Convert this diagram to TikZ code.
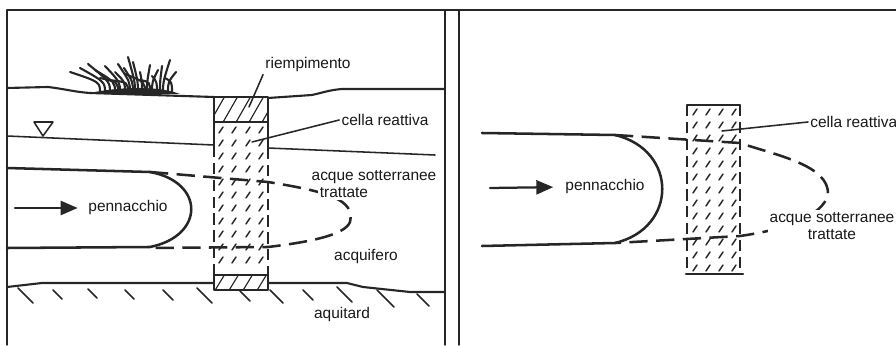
\documentclass[tikz,border=0pt]{standalone}
\usepackage{fontspec}
\setmainfont{Liberation Sans}
\usetikzlibrary{arrows.meta}

\begin{document}
\begin{tikzpicture}[
      x=0.025cm, y=-0.025cm,
      ink/.style={draw=black!85, line cap=round, line join=round},
      frame/.style={ink, line width=1pt},
      ground/.style={ink, line width=1.5pt},
      plume/.style={ink, line width=1.8pt},
      treated/.style={ink, line width=1.8pt, line cap=butt,
      dash pattern=on 13pt off 6pt},
      cellside/.style={ink, line width=1.6pt, line cap=butt,
      dash pattern=on 8pt off 4pt},
      hatch/.style={ink, line width=0.8pt},
      slash/.style={ink, line width=1pt},
      leader/.style={ink, line width=1.1pt},
      flow/.style={ink, line width=1.6pt, -{Triangle[length=12pt,width=10pt]}},
      lbl/.style={text=black!90, font=\fontsize{11}{12}\selectfont, inner sep=1.5pt},
      cover/.style={lbl, fill=white}
    ]
    \useasboundingbox (0,0) rectangle (896,347);

    % Frames
    \draw[frame] (7,345) -- (7,10) -- (896,10);
    \draw[frame] (445,10) -- (445,345);
    \draw[frame] (459,10) -- (459,345);

    % Section: ground surface and grass
    \draw[ground] (7,88) -- (48,87) .. controls (65,89) and (75,92) .. (90,93) -- (214,97);
    \draw[ground] (268,98) -- (312,95) .. controls (325,92) and (330,90) .. (342,89) -- (445,89);
    \fill[black!85] (85,94) .. controls (120,86) and (160,86) .. (180,94) -- cycle;
    \foreach \bx/\tx/\ty in {100/70/72, 105/80/68, 110/88/64, 115/95/70, 120/105/66,
      125/115/72, 130/118/64, 135/128/57, 138/133/62, 142/140/72, 147/150/65,
      152/158/70, 157/152/76, 163/170/60, 168/176/72, 172/165/78, 145/125/74,
      118/100/78, 128/108/80, 150/140/80, 160/162/66, 133/124/68}
      \draw[ink, line width=1.5pt] (\bx,93) .. controls (\bx,82) .. (\tx,\ty);

    % Water table
    \draw[ink, line width=1.1pt] (7,136) -- (214,145);
    \draw[ink, line width=1.1pt] (268,148) -- (435,155);
    \draw[ink, line width=1.1pt] (34,122) -- (53,122) -- (43,136) -- cycle;

    % Aquitard
    \draw[ground] (7,287) -- (42,283) -- (214,283);
    \draw[ground] (268,283) -- (347,283) -- (363,287) -- (410,292) -- (445,292);
    \foreach \hx/\hy/\hl in {18/288/15, 53/290/9, 88/289/9, 125/290/9, 163/290/10,
      197/288/15, 240/291/10, 270/290/13, 303/290/10, 337/287/15, 377/290/17, 417/294/12}
      \draw[ink, line width=1.2pt] (\hx,\hy) -- ++(\hl,\hl);

    % Plume (left)
    \draw[plume] (7,168) -- (150,172) .. controls (205,182) and (205,236) .. (150,247) -- (7,248);

    % Reactive cell (left)
    \foreach \sx in {221,234,248,261}
      \foreach \sy in {130,143,...,270}
        \draw[slash] (\sx-2,\sy+3) -- (\sx+2,\sy-3);
    \begin{scope}
      \clip (214,97) rectangle (268,122);
      \foreach \hx in {196,209,...,270}
        \draw[hatch] (\hx,124) -- ++(16,-28);
    \end{scope}
    \begin{scope}
      \clip (214,275) rectangle (268,290);
      \foreach \hx in {200,214,...,270}
        \draw[hatch] (\hx,292) -- ++(11,-18);
    \end{scope}
    \draw[ground] (214,97) rectangle (268,122);
    \draw[ground] (214,122) -- (214,146);
    \draw[ground] (268,122) -- (268,148);
    \draw[cellside] (214,146) -- (214,275);
    \draw[cellside] (268,148) -- (268,275);
    \draw[ground] (214,275) rectangle (268,290);

    % Treated water (left)
    \draw[treated] (150,172) -- (268,182) .. controls (330,192) and (355,200) .. (350,222)
      .. controls (345,235) and (310,242) .. (268,247) -- (150,248);

    % Labels (left)
    \node[lbl] (riemp) at (308,65) {riempimento};
    \coordinate (riempTip) at (249,107);
    \draw[leader] (riemp.south west) -- (riempTip);

    \node[lbl] (cellaL) at (385,120) {cella reattiva};
    \coordinate (cellaLtip) at (252,142);
    \draw[leader] (cellaL.west) -- (cellaLtip);

    \node[cover] (acqueL) at (374,177) {acque sotterranee};
    \node[cover] (trattL) at (344,193) {trattate};

    \node[lbl] (pennL) at (128,208) {pennacchio};
    \coordinate (flowL) at (15,208);
    \draw[flow, shorten >=6pt] (flowL) -- (pennL.west);

    \node[lbl] (acquif) at (366,257) {acquifero};
    \node[lbl] (aquit) at (342,315) {aquitard};

    % Plan view (right)
    \draw[plume] (482,133) -- (615,135) .. controls (678,150) and (678,228) .. (615,243) -- (482,246);

    \foreach \sx in {695,708,721,734}
      \foreach \sy in {112,125,...,268}
        \draw[slash] (\sx-2,\sy+3) -- (\sx+2,\sy-3);
    \draw[ground] (687,105) -- (740,105);
    \draw[cellside] (687,105) -- (687,268);
    \draw[cellside] (740,105) -- (740,268);
    \draw[ground] (686,274) -- (743,274);

    \draw[treated] (615,135) -- (740,143) .. controls (775,155) and (830,165) .. (828,195)
      .. controls (822,215) and (790,229) .. (740,236) -- (615,243);

    \node[lbl] (pennR) at (605,187) {pennacchio};
    \coordinate (flowR) at (490,188);
    \draw[flow, shorten >=7pt] (flowR) -- (pennR.west);

    \node[lbl, anchor=west] (cellaR) at (808,122) {cella reattiva};
    \coordinate (cellaRtip) at (722,131);
    \draw[leader] (cellaR.west) -- (cellaRtip);

    \node[cover, align=center] (acqueR) at (832,226) {acque sotterranee\\trattate};
  \end{tikzpicture}
\end{document}
